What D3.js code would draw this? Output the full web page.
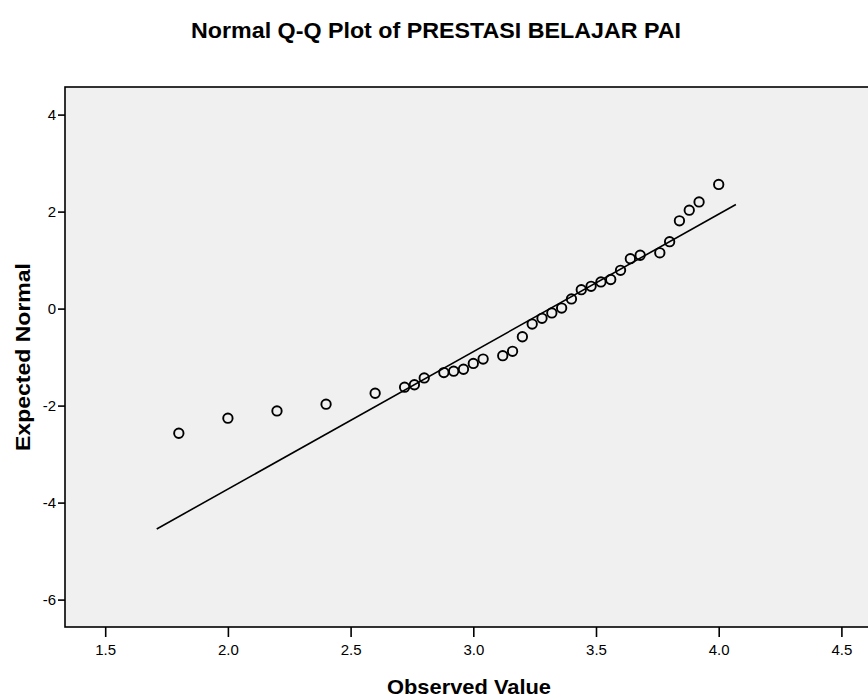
<!DOCTYPE html>
<html>
<head>
<meta charset="utf-8">
<script src="https://cdn.jsdelivr.net/npm/d3@7"></script>
<style>
  body { margin: 0; background: #fff; }
  text { font-family: "Liberation Sans", Arial, sans-serif; }
</style>
</head>
<body>
<div id="plot1"></div>
<script>
var observed = [1.80, 2.00, 2.20, 2.40, 2.60, 2.72, 2.76, 2.80, 2.88, 2.92, 2.96, 3.00,
    3.04, 3.12, 3.16, 3.20, 3.24, 3.28, 3.32, 3.36, 3.40, 3.44, 3.48, 3.52,
    3.56, 3.60, 3.64, 3.68, 3.76, 3.80, 3.84, 3.88, 3.92, 4.00];
var expected = [-2.57, -2.26, -2.11, -1.97, -1.745, -1.62, -1.57, -1.43, -1.32, -1.29, -1.25, -1.13,
    -1.04, -0.97, -0.88, -0.58, -0.32, -0.20, -0.09, 0.01, 0.20, 0.39, 0.46, 0.55,
    0.60, 0.79, 1.03, 1.10, 1.15, 1.38, 1.81, 2.03, 2.20, 2.56];

// reference line (mean / sd of the data)
var lineMean = 3.313;
var lineSd = 0.3528;
var lineX = [1.71, 4.07];

var xTicks = [1.5, 2.0, 2.5, 3.0, 3.5, 4.0, 4.5];
var yTicks = [4, 2, 0, -2, -4, -6];

var W = 868, H = 698;
var frame = {l: 65, t: 87, r: 880, b: 627};

var svg = d3.select('#plot1').append('svg')
    .attr('width', W)
    .attr('height', H);

var x = d3.scaleLinear().domain([1.5, 4.5]).range([105.2, 841.4]);
var y = d3.scaleLinear().domain([4, -6]).range([114.6, 599.6]);

// plot background + frame
svg.append('rect')
    .attr('x', frame.l).attr('y', frame.t)
    .attr('width', frame.r - frame.l).attr('height', frame.b - frame.t)
    .attr('fill', '#f0f0f0')
    .attr('stroke', '#000')
    .attr('stroke-width', 1.6);

// axes (plain hyphen for minus, like the original)
var xAxis = d3.axisBottom(x).tickValues(xTicks).tickFormat(d3.format('.1f')).tickSize(10).tickPadding(7);
var yAxis = d3.axisLeft(y).tickValues(yTicks).tickFormat(function(d){ return String(d); }).tickSize(7).tickPadding(2);

var gx = svg.append('g').attr('transform', 'translate(0,' + frame.b + ')').call(xAxis);
var gy = svg.append('g').attr('transform', 'translate(' + frame.l + ',0)').call(yAxis);

[gx, gy].forEach(function(g){
    g.select('.domain').remove();
    g.selectAll('.tick line').attr('stroke', '#000').attr('stroke-width', 1.6);
    g.selectAll('.tick text')
        .attr('fill', '#000')
        .style('font-size', '15px');
});

// reference line
svg.append('line')
    .attr('x1', x(lineX[0])).attr('y1', y((lineX[0] - lineMean) / lineSd))
    .attr('x2', x(lineX[1])).attr('y2', y((lineX[1] - lineMean) / lineSd))
    .attr('stroke', '#000')
    .attr('stroke-width', 1.6);

// points
var points = observed.map(function(d, i){ return {x: d, y: expected[i]}; });

svg.append('g').selectAll('circle')
    .data(points)
    .enter()
    .append('circle')
    .attr('cx', function(d){ return x(d.x); })
    .attr('cy', function(d){ return y(d.y); })
    .attr('r', 4.7)
    .attr('fill', 'none')
    .attr('stroke', '#000')
    .attr('stroke-width', 1.9);

// titles
svg.append('text')
    .attr('x', 436).attr('y', 38)
    .attr('text-anchor', 'middle')
    .attr('textLength', 490)
    .attr('lengthAdjust', 'spacingAndGlyphs')
    .style('font-weight', 'bold')
    .style('font-size', '22px')
    .text('Normal Q-Q Plot of PRESTASI BELAJAR PAI');

svg.append('text')
    .attr('x', 469).attr('y', 694)
    .attr('text-anchor', 'middle')
    .attr('textLength', 164)
    .attr('lengthAdjust', 'spacingAndGlyphs')
    .style('font-weight', 'bold')
    .style('font-size', '21px')
    .text('Observed Value');

svg.append('text')
    .attr('transform', 'translate(30,357) rotate(-90)')
    .attr('text-anchor', 'middle')
    .attr('textLength', 188)
    .attr('lengthAdjust', 'spacingAndGlyphs')
    .style('font-weight', 'bold')
    .style('font-size', '21px')
    .text('Expected Normal');
</script>
</body>
</html>
